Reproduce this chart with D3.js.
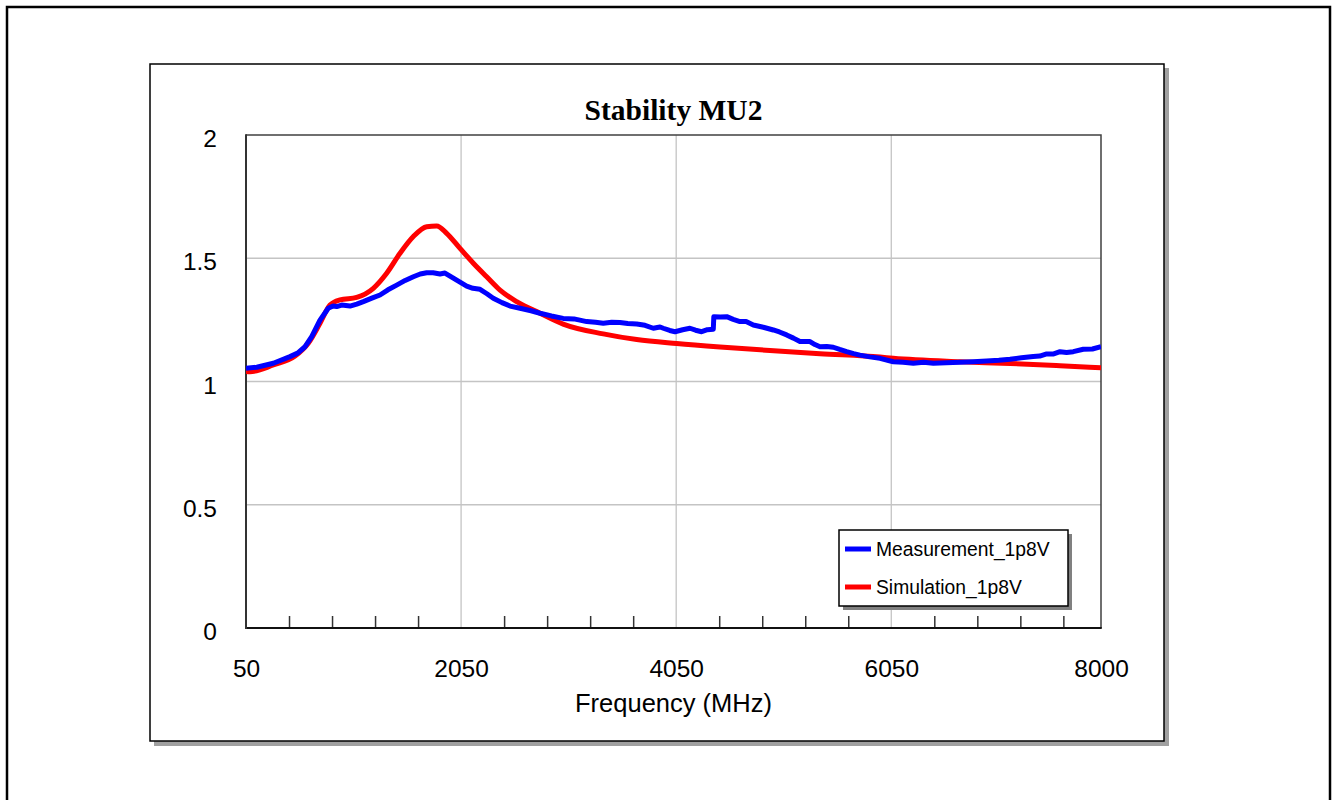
<!DOCTYPE html>
<html>
<head>
<meta charset="utf-8">
<script src="https://cdn.jsdelivr.net/npm/d3@7"></script>
<style>
  html, body { margin: 0; padding: 0; background: #fff; }
  svg { display: block; }
</style>
</head>
<body>
<svg id="chart" width="1336" height="800"></svg>
<script>
// Measured stability factor MU2 versus frequency
const measFreq = [50, 150, 304, 459, 530, 599, 661, 738, 815, 860, 893, 940, 1017, 1080, 1141, 1220, 1296, 1370, 1451, 1530,
  1606, 1670, 1730, 1790, 1854, 1900, 1978, 2040, 2102, 2160, 2226, 2290, 2349, 2430, 2505, 2598, 2700, 2784, 2890, 2999,
  3100, 3218, 3300, 3372, 3450, 3527, 3600, 3683, 3760, 3837, 3900, 3930, 3990, 4039, 4110, 4178, 4230, 4287, 4340, 4395,
  4400, 4460, 4520, 4580, 4643, 4700, 4767, 4860, 4953, 5010, 5077, 5140, 5201, 5294, 5340, 5387, 5450, 5511, 5570, 5635,
  5700, 5759, 5850, 5945, 6069, 6160, 6255, 6350, 6441, 6560, 6689, 6810, 6937, 7050, 7154, 7260, 7370, 7430, 7495, 7560,
  7619, 7680, 7742, 7835, 7920, 8000];
const measVal = [1.054, 1.058, 1.074, 1.101, 1.115, 1.141, 1.182, 1.249, 1.297, 1.306, 1.304, 1.310, 1.306, 1.314, 1.324, 1.338, 1.351, 1.372, 1.391, 1.410,
  1.425, 1.436, 1.441, 1.441, 1.436, 1.440, 1.419, 1.403, 1.387, 1.378, 1.374, 1.356, 1.338, 1.320, 1.306, 1.297, 1.287, 1.277, 1.266, 1.256,
  1.254, 1.243, 1.240, 1.236, 1.240, 1.239, 1.235, 1.233, 1.228, 1.216, 1.221, 1.216, 1.207, 1.202, 1.210, 1.216, 1.208, 1.202, 1.210, 1.212,
  1.263, 1.262, 1.263, 1.252, 1.243, 1.243, 1.229, 1.220, 1.209, 1.201, 1.189, 1.176, 1.162, 1.162, 1.150, 1.141, 1.142, 1.139, 1.130, 1.121,
  1.113, 1.107, 1.100, 1.094, 1.080, 1.078, 1.074, 1.078, 1.074, 1.076, 1.078, 1.080, 1.083, 1.086, 1.090, 1.096, 1.101, 1.103, 1.112, 1.112,
  1.121, 1.118, 1.121, 1.131, 1.132, 1.141];

// Simulated stability factor MU2 versus frequency
const simFreq = [50, 87, 304, 506, 629, 738, 831, 924, 1079, 1234, 1358, 1482, 1606, 1730, 1823, 1916, 2040, 2164, 2288, 2412,
  2567, 2784, 2999, 3372, 3683, 4055, 4457, 4922, 5387, 5945, 6069, 6689, 7154, 7619, 8000];
const simVal = [1.041, 1.040, 1.067, 1.103, 1.155, 1.236, 1.310, 1.331, 1.341, 1.378, 1.439, 1.520, 1.588, 1.628, 1.631, 1.601, 1.540, 1.480, 1.425, 1.371,
  1.324, 1.277, 1.233, 1.193, 1.170, 1.154, 1.140, 1.126, 1.113, 1.099, 1.094, 1.080, 1.073, 1.064, 1.056];

const xMajorTicks = [50, 2050, 4050, 6050, 8000];
const xGridTicks = [2050, 4050, 6050];
const xMinorTicks = [450, 850, 1250, 1650, 2450, 2850, 3250, 3650, 4450, 4850, 5250, 5650, 6450, 6850, 7250, 7650];
const yTicks = [0, 0.5, 1, 1.5, 2];
const yTickLabels = ["0", "0.5", "1", "1.5", "2"];

const seriesNames = ["Measurement_1p8V", "Simulation_1p8V"];
const seriesColors = ["#0000ff", "#ff0000"];

const svg = d3.select("#chart");

// Plot area
const plot = { left: 246, top: 135, right: 1101, bottom: 628 };
const x = d3.scaleLinear().domain([50, 8000]).range([plot.left, plot.right]);
const y = d3.scaleLinear().domain([0, 2]).range([plot.bottom, plot.top]);

const sans = "Arial, 'Liberation Sans', Helvetica, sans-serif";
const serif = "'Times New Roman', 'Liberation Serif', Times, serif";

// Page border
svg.append("rect")
  .attr("x", 7).attr("y", 7).attr("width", 1323).attr("height", 820)
  .attr("fill", "none").attr("stroke", "#000").attr("stroke-width", 2.5);

// Chart frame with drop shadow
const frame = { x: 150, y: 64, w: 1014, h: 677 };
svg.append("rect")
  .attr("x", frame.x + 4).attr("y", frame.y + 4).attr("width", frame.w + 1).attr("height", frame.h + 1)
  .attr("fill", "#a0a0a0");
svg.append("rect")
  .attr("x", frame.x).attr("y", frame.y).attr("width", frame.w).attr("height", frame.h)
  .attr("fill", "#fff").attr("stroke", "#000").attr("stroke-width", 1.5);

// Title
svg.append("text")
  .attr("x", (plot.left + plot.right) / 2).attr("y", 120)
  .attr("text-anchor", "middle")
  .attr("font-family", serif).attr("font-weight", "bold").attr("font-size", 29.5)
  .text("Stability MU2");

// Gridlines
const grid = svg.append("g");
grid.selectAll("line.h").data([0.5, 1, 1.5]).join("line")
  .attr("x1", plot.left).attr("x2", plot.right)
  .attr("y1", d => y(d)).attr("y2", d => y(d))
  .attr("stroke", "#c4c4c4").attr("stroke-width", 1.3);
grid.selectAll("line.v").data(xGridTicks).join("line")
  .attr("x1", d => x(d)).attr("x2", d => x(d))
  .attr("y1", plot.top).attr("y2", plot.bottom)
  .attr("stroke", "#c4c4c4").attr("stroke-width", 1.3);

// Plot border (top and right)
svg.append("path")
  .attr("d", `M${plot.left},${plot.top}H${plot.right}V${plot.bottom}`)
  .attr("fill", "none").attr("stroke", "#404040").attr("stroke-width", 1.5);

// X axis: minor ticks pointing inward, labels at major values
const xAxis = d3.axisTop(x).tickValues(xMinorTicks).tickSize(12).tickFormat("");
const gx = svg.append("g").attr("transform", `translate(0,${plot.bottom})`).call(xAxis);
gx.select(".domain").remove();
gx.selectAll(".tick line").attr("stroke", "#333").attr("stroke-width", 1.5);

svg.append("line")
  .attr("x1", plot.left - 1).attr("x2", plot.right + 0.75)
  .attr("y1", plot.bottom).attr("y2", plot.bottom)
  .attr("stroke", "#111").attr("stroke-width", 2);

const xLabels = d3.axisBottom(x).tickValues(xMajorTicks).tickSize(0).tickPadding(0).tickFormat(d3.format("d"));
const gxl = svg.append("g").attr("transform", `translate(0,${plot.bottom})`).call(xLabels);
gxl.select(".domain").remove();
gxl.selectAll(".tick text")
  .attr("dy", null).attr("y", 49)
  .attr("font-family", sans).attr("font-size", 24.5).attr("fill", "#000");

svg.append("text")
  .attr("x", (plot.left + plot.right) / 2).attr("y", 712)
  .attr("text-anchor", "middle")
  .attr("font-family", sans).attr("font-size", 25.5)
  .text("Frequency (MHz)");

// Y axis
const yAxis = d3.axisLeft(y).tickValues(yTicks).tickSize(0).tickPadding(0)
  .tickFormat((d, i) => yTickLabels[i]);
const gy = svg.append("g").attr("transform", `translate(${plot.left},0)`).call(yAxis);
gy.select(".domain").remove();
gy.selectAll(".tick text")
  .attr("x", -29).attr("dy", null).attr("y", 11.5)
  .attr("font-family", sans).attr("font-size", 24.5).attr("fill", "#000");

svg.append("line")
  .attr("x1", plot.left).attr("x2", plot.left)
  .attr("y1", plot.top - 0.75).attr("y2", plot.bottom + 1)
  .attr("stroke", "#333").attr("stroke-width", 2);

// Series
svg.append("clipPath").attr("id", "plotClip").append("rect")
  .attr("x", plot.left).attr("y", plot.top - 5)
  .attr("width", plot.right - plot.left).attr("height", plot.bottom - plot.top + 5);

const measLine = d3.line().x(d => x(d[0])).y(d => y(d[1])).curve(d3.curveLinear);
const simLine = d3.line().x(d => x(d[0])).y(d => y(d[1])).curve(d3.curveMonotoneX);

const series = svg.append("g").attr("clip-path", "url(#plotClip)");
series.append("path")
  .datum(simFreq.map((f, i) => [f, simVal[i]]))
  .attr("d", simLine)
  .attr("fill", "none").attr("stroke", seriesColors[1]).attr("stroke-width", 5)
  .attr("stroke-linejoin", "round");
series.append("path")
  .datum(measFreq.map((f, i) => [f, measVal[i]]))
  .attr("d", measLine)
  .attr("fill", "none").attr("stroke", seriesColors[0]).attr("stroke-width", 5)
  .attr("stroke-linejoin", "round");

// Legend with drop shadow
const lg = { x: 839, y: 530, w: 229, h: 76 };
svg.append("rect")
  .attr("x", lg.x + 4).attr("y", lg.y + 4).attr("width", lg.w).attr("height", lg.h)
  .attr("fill", "#808080");
svg.append("rect")
  .attr("x", lg.x).attr("y", lg.y).attr("width", lg.w).attr("height", lg.h)
  .attr("fill", "#fff").attr("stroke", "#000").attr("stroke-width", 1.5);

const legendRows = [549, 587];
seriesNames.forEach((name, i) => {
  const ly = legendRows[i];
  svg.append("line")
    .attr("x1", 845).attr("x2", 871).attr("y1", ly).attr("y2", ly)
    .attr("stroke", seriesColors[i]).attr("stroke-width", 5);
  svg.append("text")
    .attr("x", 876).attr("y", ly + 6.5)
    .attr("font-family", sans).attr("font-size", 19.3)
    .text(name);
});
</script>
</body>
</html>
